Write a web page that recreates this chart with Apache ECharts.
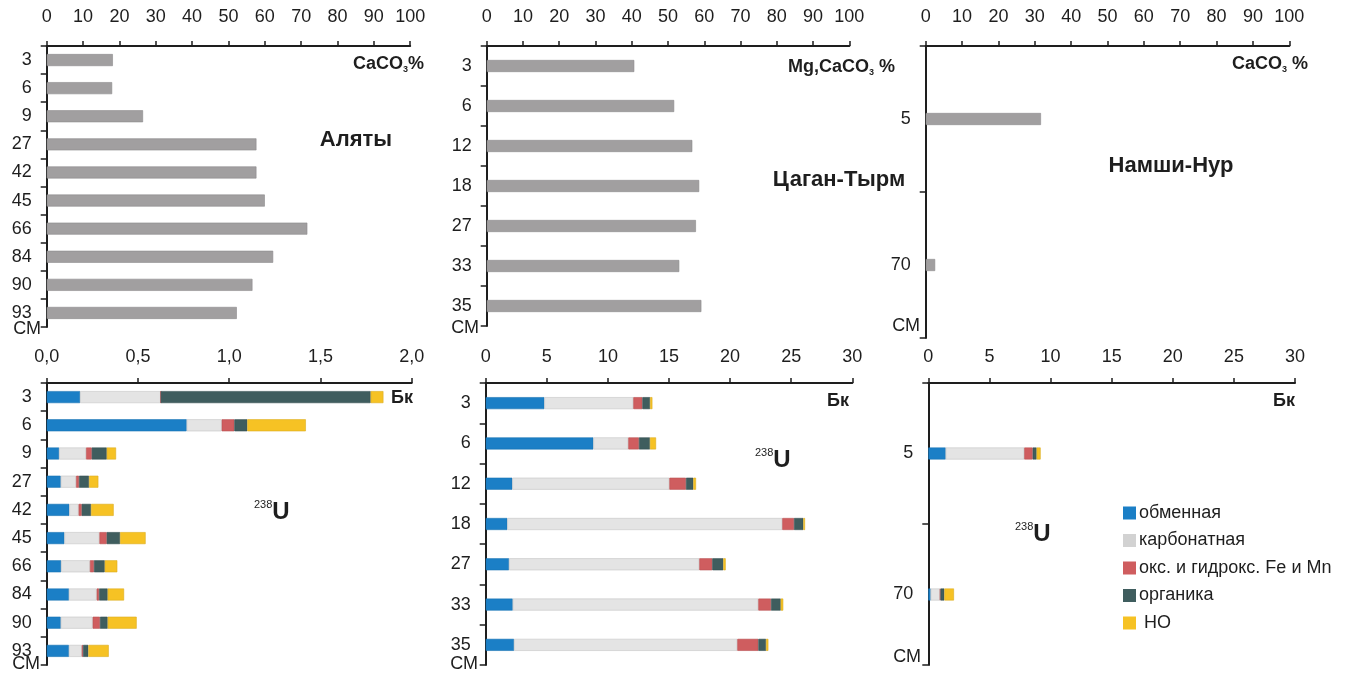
<!DOCTYPE html>
<html>
<head>
<meta charset="utf-8">
<script src="https://cdn.jsdelivr.net/npm/echarts@6/dist/echarts.min.js"></script>
<style>
html,body{margin:0;padding:0;background:#fff;}
#main{width:1346px;height:673px;}
</style>
</head>
<body>
<div id="main"></div>
<script>
// ---- data ----
var depthsA = ['3','6','9','27','42','45','66','84','90','93'];
var caco3A = [18.2, 18.0, 26.5, 57.7, 57.7, 60.0, 71.7, 62.3, 56.6, 52.3];
var depthsT = ['3','6','12','18','27','33','35'];
var mgcaco3T = [40.7, 51.7, 56.7, 58.6, 57.7, 53.1, 59.2];
var depthsN = ['5','70'];
var caco3N = [31.7, 2.6];

var seriesNames = ['обменная','карбонатная','окс. и гидрокс. Fe и Mn','органика','НО'];

var exchA = [0.183, 0.767, 0.068, 0.077, 0.124, 0.097, 0.079, 0.122, 0.077, 0.122];
var carbA = [0.442, 0.192, 0.148, 0.084, 0.051, 0.192, 0.158, 0.152, 0.175, 0.070];
var oxA   = [0.000, 0.069, 0.031, 0.016, 0.017, 0.040, 0.022, 0.013, 0.040, 0.007];
var orgA  = [1.150, 0.071, 0.082, 0.055, 0.051, 0.073, 0.059, 0.047, 0.042, 0.029];
var noA   = [0.070, 0.321, 0.051, 0.051, 0.124, 0.140, 0.069, 0.090, 0.159, 0.112];

var exchT = [4.80, 8.81, 2.18, 1.77, 1.91, 2.21, 2.32];
var carbT = [7.28, 2.86, 12.85, 22.50, 15.57, 20.10, 18.27];
var oxT   = [0.74, 0.87, 1.36, 0.96, 1.06, 1.04, 1.72];
var orgT  = [0.63, 0.90, 0.60, 0.76, 0.90, 0.79, 0.63];
var noT   = [0.19, 0.50, 0.22, 0.14, 0.20, 0.21, 0.19];

var exchN = [1.42, 0.19];
var carbN = [6.43, 0.76];
var oxN   = [0.69, 0.05];
var orgN  = [0.32, 0.31];
var noN   = [0.33, 0.79];

// ---- styles ----
var FONT = "'Liberation Sans', Arial, sans-serif";
var INK = '#1e1e1e';
var colors = ['#1b7fc6', '#e4e4e4', '#cf5d5f', '#3f5d5e', '#f6c224'];
var borders = ['#1a73b3', '#c4c4c4', '#b85053', '#344f50', '#dcad20'];
var legendColors = ['#1b7fc6', '#d2d2d2', '#cf5d5f', '#3f5d5e', '#f6c224'];

var chart = echarts.init(document.getElementById('main'));

var grids = [
  {left: 46.7, top: 46, width: 363.5, height: 281},
  {left: 486.7, top: 46, width: 362.6, height: 280},
  {left: 925.7, top: 46, width: 363.6, height: 292},
  {left: 46.7, top: 383, width: 365, height: 282},
  {left: 485.7, top: 383, width: 366.6, height: 282},
  {left: 928.3, top: 383, width: 366.7, height: 282}
];

function xAx(gi, max, interval, margin, fmt) {
  return {
    type: 'value', gridIndex: gi, position: 'top', min: 0, max: max, interval: interval,
    axisLine: {show: true, lineStyle: {color: INK, width: 2}},
    axisTick: {show: true, length: 5, lineStyle: {color: INK, width: 1.5}},
    splitLine: {show: false},
    axisLabel: {color: INK, fontSize: 18, fontFamily: FONT, margin: margin, formatter: fmt}
  };
}
function yAx(gi, cats) {
  return {
    type: 'category', gridIndex: gi, data: cats, inverse: true,
    axisLine: {show: true, lineStyle: {color: INK, width: 2}},
    axisTick: {show: true, length: 6, lineStyle: {color: INK, width: 1.5}},
    axisLabel: {color: INK, fontSize: 18, fontFamily: FONT, margin: 15}
  };
}
var commaFmt = function (v) { return v.toFixed(1).replace('.', ','); };

var xAxes = [
  xAx(0, 100, 10, 20), xAx(1, 100, 10, 20), xAx(2, 100, 10, 20),
  xAx(3, 2, 0.5, 17, commaFmt), xAx(4, 30, 5, 17), xAx(5, 30, 5, 17)
];
var yAxes = [yAx(0, depthsA), yAx(1, depthsT), yAx(2, depthsN), yAx(3, depthsA), yAx(4, depthsT), yAx(5, depthsN)];

var series = [];
function grayBar(gi, data) {
  series.push({
    type: 'bar', xAxisIndex: gi, yAxisIndex: gi, data: data, barWidth: 12,
    itemStyle: {color: '#a19fa0', borderColor: '#8c8a8b', borderWidth: 0.6},
    silent: true
  });
}
grayBar(0, caco3A); grayBar(1, mgcaco3T); grayBar(2, caco3N);

function stackBars(gi, arrs) {
  arrs.forEach(function (d, k) {
    series.push({
      name: seriesNames[k], type: 'bar', stack: 's' + gi, xAxisIndex: gi, yAxisIndex: gi,
      data: d, barWidth: 12,
      itemStyle: {color: colors[k], borderColor: borders[k], borderWidth: 0.6}
    });
  });
}
stackBars(3, [exchA, carbA, oxA, orgA, noA]);
stackBars(4, [exchT, carbT, oxT, orgT, noT]);
stackBars(5, [exchN, carbN, oxN, orgN, noN]);

function txt(x, y, text, opts) {
  opts = opts || {};
  return {
    type: 'text', x: x, y: y, silent: true,
    style: {
      text: text, fill: INK, fontFamily: FONT,
      fontSize: opts.size || 18, fontWeight: opts.weight || 'normal',
      align: opts.align || 'left', verticalAlign: 'middle',
      rich: opts.rich
    }
  };
}
var subRich = {
  m: {fontSize: 18, fontWeight: 'bold', fontFamily: FONT, fill: INK, lineHeight: 20},
  s: {fontSize: 9, fontWeight: 'bold', fontFamily: FONT, fill: INK, verticalAlign: 'bottom', lineHeight: 20, padding: [7, 0, 0, 0]}
};
var uRich = {
  p: {fontSize: 11, fontFamily: FONT, fill: INK, verticalAlign: 'top', lineHeight: 26, padding: [0, 0, 11, 0]},
  u: {fontSize: 24, fontWeight: 'bold', fontFamily: FONT, fill: INK, lineHeight: 26}
};

var graphics = [
  txt(424, 64, '{m|CaCO}{s|3}{m|%}', {align: 'right', rich: subRich}),
  txt(356, 140, 'Аляты', {size: 22, weight: 'bold', align: 'center'}),
  txt(895, 67, '{m|Mg,CaCO}{s|3}{m| %}', {align: 'right', rich: subRich}),
  txt(839, 180, 'Цаган-Тырм', {size: 22, weight: 'bold', align: 'center'}),
  txt(1308, 64, '{m|CaCO}{s|3}{m| %}', {align: 'right', rich: subRich}),
  txt(1171, 166, 'Намши-Нур', {size: 22, weight: 'bold', align: 'center'}),
  txt(413, 398, 'Бк', {weight: 'bold', align: 'right'}),
  txt(849, 401, 'Бк', {weight: 'bold', align: 'right'}),
  txt(1295, 401, 'Бк', {weight: 'bold', align: 'right'}),
  txt(254, 512, '{p|238}{u|U}', {rich: uRich}),
  txt(755, 460, '{p|238}{u|U}', {rich: uRich}),
  txt(1015, 534, '{p|238}{u|U}', {rich: uRich}),
  txt(41, 329, 'СМ', {align: 'right'}),
  txt(479, 328, 'СМ', {align: 'right'}),
  txt(920, 326, 'СМ', {align: 'right'}),
  txt(40, 664, 'СМ', {align: 'right'}),
  txt(478, 664, 'СМ', {align: 'right'}),
  txt(921, 657, 'СМ', {align: 'right'})
];

chart.setOption({
  animation: false,
  backgroundColor: '#fff',
  grid: grids,
  xAxis: xAxes,
  yAxis: yAxes,
  series: series,
  legend: {
    data: seriesNames.map(function (n, k) {
      return {name: n, itemStyle: {color: legendColors[k], borderWidth: 0}};
    }),
    orient: 'vertical', left: 1123, top: 504, padding: 0,
    itemWidth: 13, itemHeight: 13, itemGap: 9.5, icon: 'rect',
    selectedMode: false,
    formatter: function (n) { return n === 'НО' ? ' НО' : n; },
    textStyle: {fontSize: 18, fontFamily: FONT, color: INK, lineHeight: 18, padding: [0, 0, 0, -2]}
  },
  graphic: graphics
});
</script>
</body>
</html>
